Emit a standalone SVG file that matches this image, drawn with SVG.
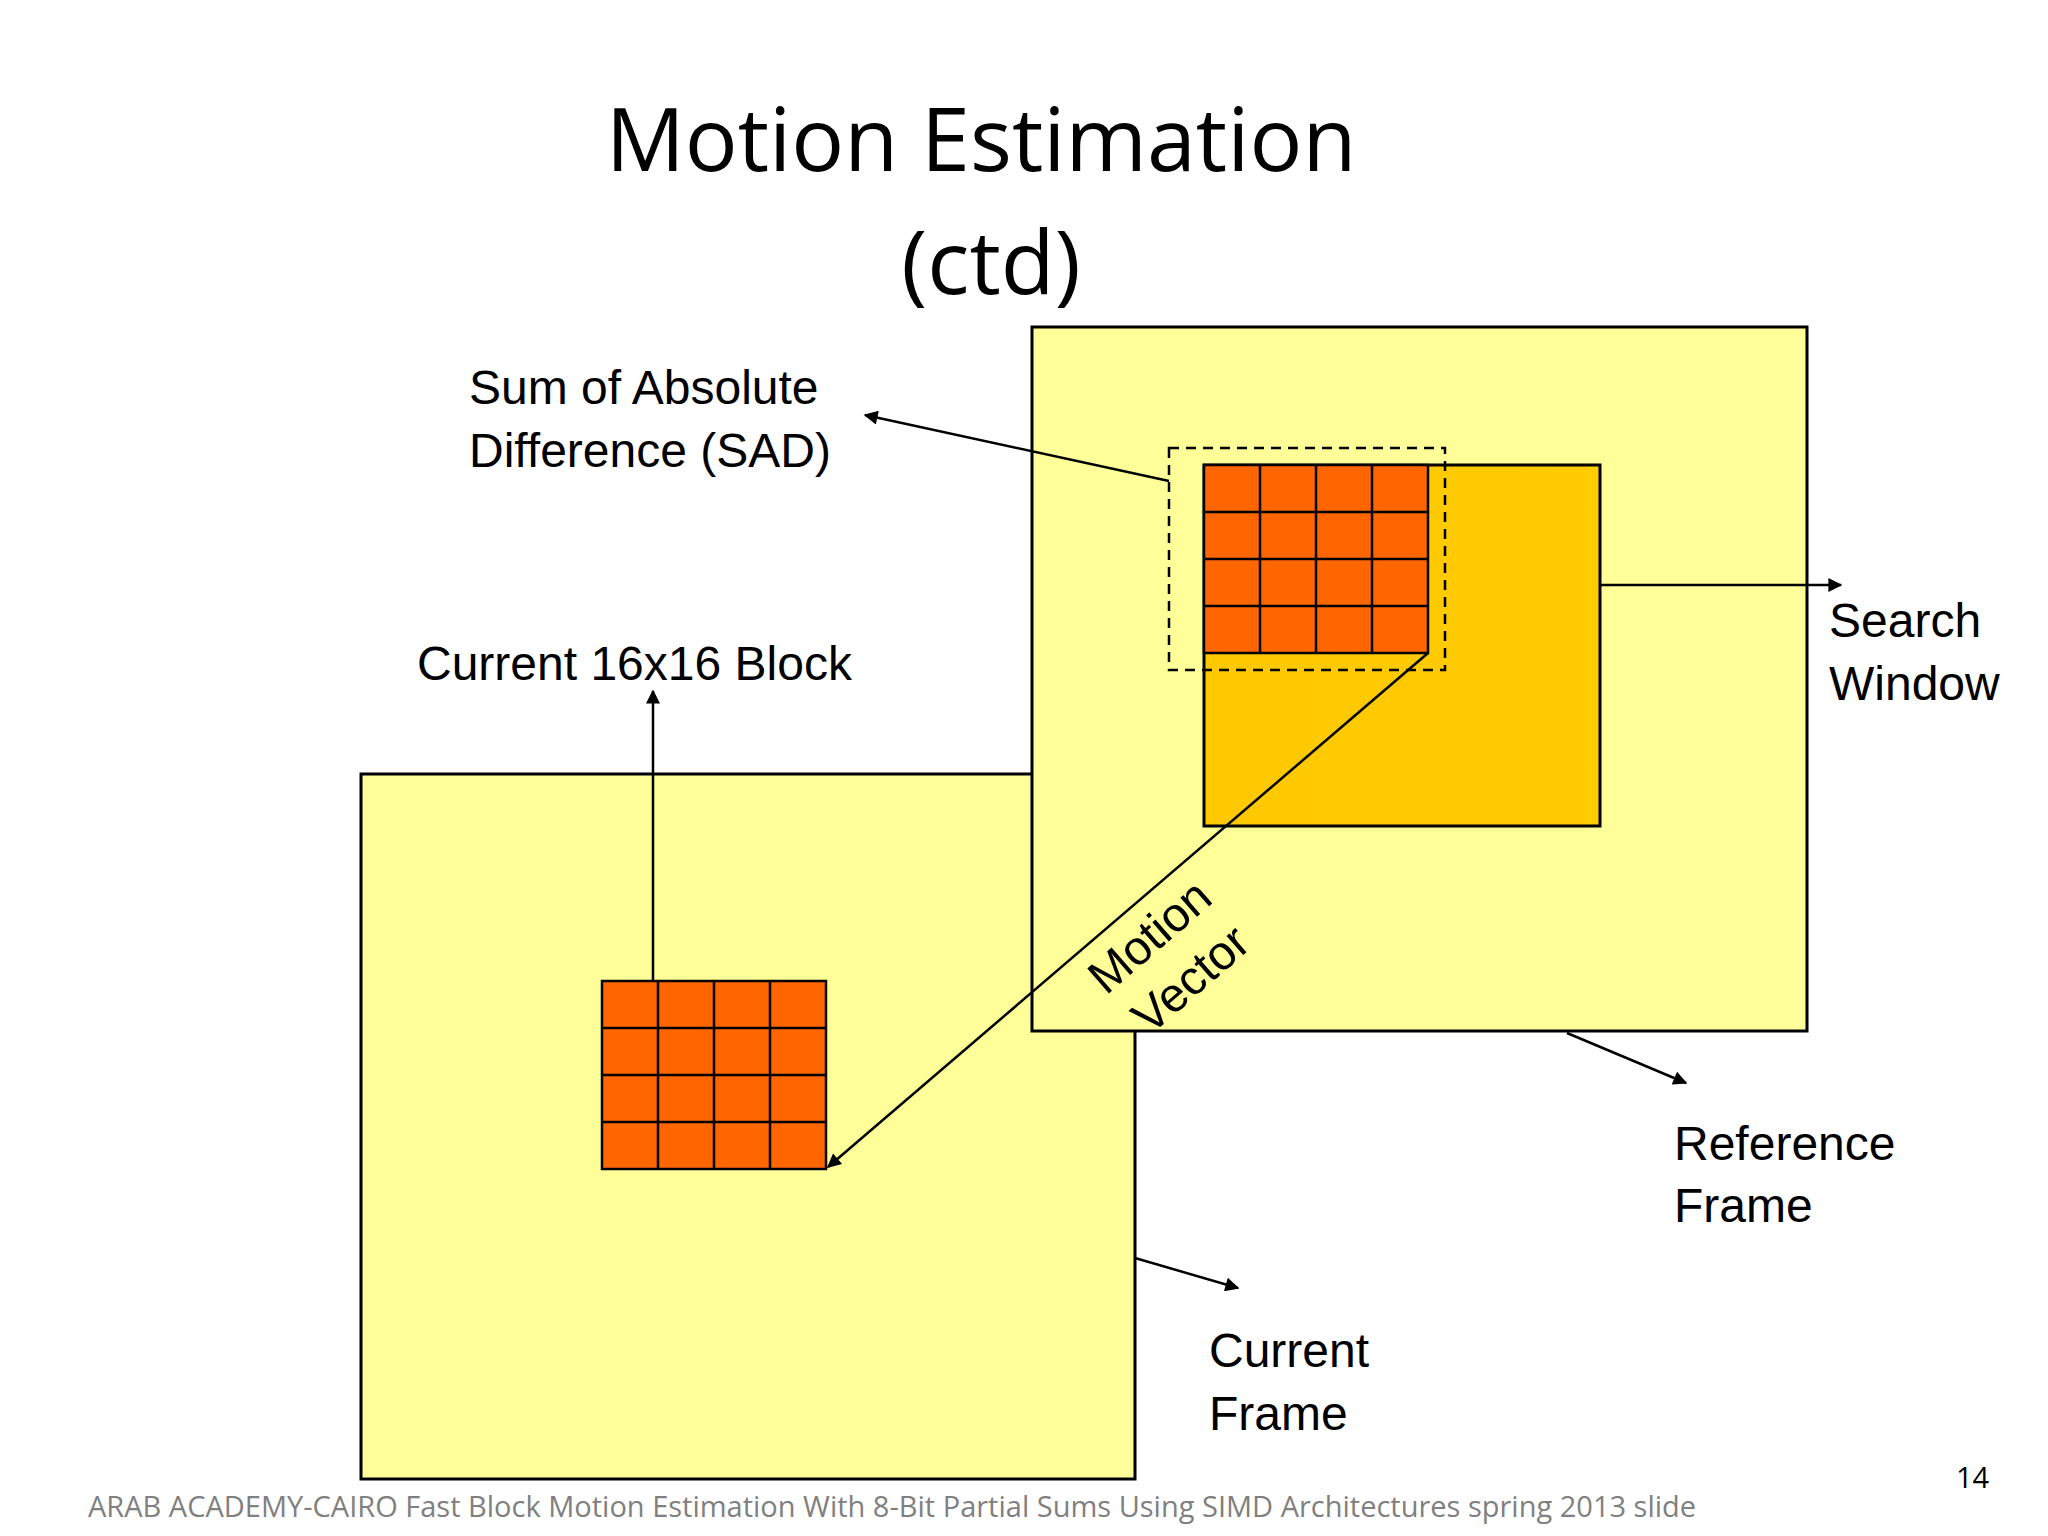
<svg xmlns="http://www.w3.org/2000/svg" width="2048" height="1536" viewBox="0 0 2048 1536">
<defs>
<linearGradient id="sw" x1="0" y1="0" x2="1" y2="0"><stop offset="0" stop-color="#FFC800"/><stop offset="1" stop-color="#FFCC00"/></linearGradient>
<linearGradient id="rf" x1="0" y1="0" x2="1" y2="0"><stop offset="0" stop-color="#FFFF99"/><stop offset="1" stop-color="#FFFF99"/></linearGradient>
<marker id="ah" viewBox="0 0 10 10" refX="9" refY="5" markerWidth="7" markerHeight="7" orient="auto" markerUnits="userSpaceOnUse"><path d="M0,0 L10,5 L0,10 z" fill="#000"/></marker>
<marker id="a" viewBox="0 0 10 10" refX="9" refY="5" markerWidth="16" markerHeight="14" orient="auto" markerUnits="userSpaceOnUse"><path d="M0,0 L10,5 L0,10 z" fill="#000"/></marker>
</defs>
<style>
.t{font-family:"Liberation Sans",Arial,sans-serif;font-size:48px;fill:#000}
.h{font-family:"Open Sans","Noto Sans",sans-serif;font-size:88px;fill:#000}
.f{font-family:"Open Sans","Noto Sans",sans-serif;font-size:29px;fill:#808080}
.fr{fill:#FFFF99;stroke:#000;stroke-width:3}
.c{fill:#FF6600;stroke:#000;stroke-width:2.5}
.l{stroke:#000;stroke-width:2.5;fill:none}
</style>
<rect width="2048" height="1536" fill="#fff"/>
<text class="h" x="981" y="171" text-anchor="middle">Motion Estimation</text>
<text class="h" x="991" y="294" text-anchor="middle">(ctd)</text>
<g id="currentFrame"><rect class="fr" x="361" y="774" width="774" height="705"/></g>
<g id="referenceFrame"><rect class="fr" x="1032" y="327" width="775" height="704"/></g>
<g id="searchWindow"><rect x="1204" y="465" width="396" height="361" fill="url(#sw)" stroke="#000" stroke-width="3"/></g>
<g id="refBlock">
<rect class="c" x="1204" y="465" width="224" height="188"/>
<path class="l" d="M1260,465V653M1316,465V653M1372,465V653M1204,512H1428M1204,559H1428M1204,606H1428"/>
<rect x="1169" y="448" width="276" height="222" fill="none" stroke="#000" stroke-width="2.5" stroke-dasharray="10,7"/>
</g>
<g id="currentBlock">
<rect class="c" x="602" y="981" width="224" height="188"/>
<path class="l" d="M658,981V1169M714,981V1169M770,981V1169M602,1028H826M602,1075H826M602,1122H826"/>
</g>
<g id="connectors">
<line class="l" x1="653" y1="981" x2="653" y2="691" marker-end="url(#a)"/>
<line class="l" x1="1169" y1="481" x2="865" y2="415" marker-end="url(#a)"/>
<line class="l" x1="1428" y1="653" x2="828" y2="1167" marker-end="url(#a)"/>
<line class="l" x1="1600" y1="585" x2="1841" y2="585" marker-end="url(#a)"/>
<line class="l" x1="1567" y1="1033" x2="1686" y2="1083" marker-end="url(#a)"/>
<line class="l" x1="1135" y1="1258" x2="1238" y2="1288" marker-end="url(#a)"/>
</g>
<g id="labels">
<text class="t" x="469" y="404">Sum of Absolute</text>
<text class="t" x="469" y="467">Difference (SAD)</text>
<text class="t" x="417" y="680">Current 16x16 Block</text>
<text class="t" x="1829" y="637">Search</text>
<text class="t" x="1829" y="700">Window</text>
<text class="t" x="1674" y="1160">Reference</text>
<text class="t" x="1674" y="1222">Frame</text>
<text class="t" x="1209" y="1367">Current</text>
<text class="t" x="1209" y="1430">Frame</text>
<text class="t" transform="translate(1106,996) rotate(-41)">Motion</text>
<text class="t" transform="translate(1150,1036) rotate(-41)">Vector</text>
</g>
<text class="f" x="88" y="1517">ARAB ACADEMY-CAIRO    Fast Block Motion Estimation With 8-Bit Partial Sums Using SIMD Architectures   spring 2013 slide</text>
<text class="f" x="1956" y="1488" fill="#000" style="fill:#000">14</text>
</svg>
